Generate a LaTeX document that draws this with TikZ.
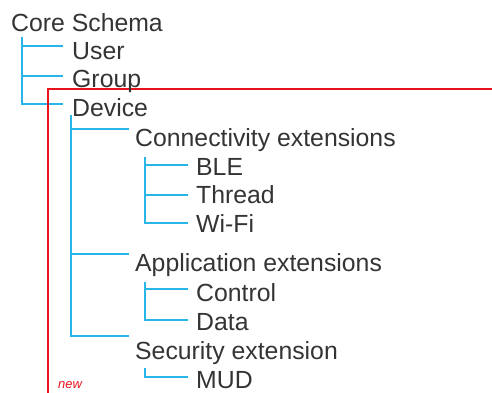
\documentclass[tikz,border=0pt]{standalone}
\usepackage{fontspec}
\setmainfont{Liberation Sans}
\usetikzlibrary{backgrounds}
\definecolor{treeblue}{RGB}{40,182,232}
\definecolor{boxred}{RGB}{232,20,28}
\definecolor{txt}{RGB}{52,52,52}

\begin{document}
\begin{tikzpicture}[x=1pt,y=-1pt,
  item/.style={anchor=base west,inner sep=0pt,text=txt,font=\fontsize{24.8}{28}\selectfont},
  branch/.style={treeblue,line width=1.6pt}]
\clip (0,0) rectangle (492,392);
% highlight frame
\draw [boxred,line width=2pt] (48,89) rectangle (520,420);
\node [item] (core) at (11,31) {Core Schema};
\node [item] (user) at (72,59) {User};
\node [item] (group) at (72,87) {Group};
\node [item] (device) at (72,116) {Device};
\node [item] (conn) at (135,146) {Connectivity extensions};
\node [item] (ble) at (196,175) {BLE};
\node [item] (thread) at (196,203) {Thread};
\node [item] (wifi) at (196,232) {Wi-Fi};
\node [item] (app) at (135,271) {Application extensions};
\node [item] (control) at (196,301) {Control};
\node [item] (data) at (196,330) {Data};
\node [item] (sec) at (135,359) {Security extension};
\node [item] (mud) at (196,388) {MUD};
\node [anchor=base west,inner sep=0pt,text=boxred,font=\fontsize{13}{15}\selectfont\itshape] (new) at (58,388) {new};
\begin{scope}[on background layer]
\draw [branch] ([xshift=11pt,yshift=-6pt]core.base west) |- ([xshift=-9pt,yshift=13pt]user.base west);
\draw [branch] ([xshift=11pt,yshift=-6pt]core.base west) |- ([xshift=-9pt,yshift=11pt]group.base west);
\draw [branch] ([xshift=11pt,yshift=-6pt]core.base west) |- ([xshift=-9pt,yshift=12pt]device.base west);
\draw [branch] ([xshift=-1pt,yshift=1pt]device.base west) |- ([xshift=-6pt,yshift=17pt]conn.base west);
\draw [branch] ([xshift=-1pt,yshift=1pt]device.base west) |- ([xshift=-6pt,yshift=17pt]app.base west);
\draw [branch] ([xshift=-1pt,yshift=1pt]device.base west) |- ([xshift=-6pt,yshift=23pt]sec.base west);
\draw [branch] ([xshift=10pt,yshift=-11pt]conn.base west) |- ([xshift=-8pt,yshift=10pt]ble.base west);
\draw [branch] ([xshift=10pt,yshift=-11pt]conn.base west) |- ([xshift=-8pt,yshift=8pt]thread.base west);
\draw [branch] ([xshift=10pt,yshift=-11pt]conn.base west) |- ([xshift=-8pt,yshift=9pt]wifi.base west);
\draw [branch] ([xshift=10pt,yshift=-11pt]app.base west) |- ([xshift=-8pt,yshift=12pt]control.base west);
\draw [branch] ([xshift=10pt,yshift=-11pt]app.base west) |- ([xshift=-8pt,yshift=10pt]data.base west);
\draw [branch] ([xshift=10pt,yshift=-9pt]sec.base west) |- ([xshift=-8pt,yshift=11pt]mud.base west);
\end{scope}
\end{tikzpicture}
\end{document}
